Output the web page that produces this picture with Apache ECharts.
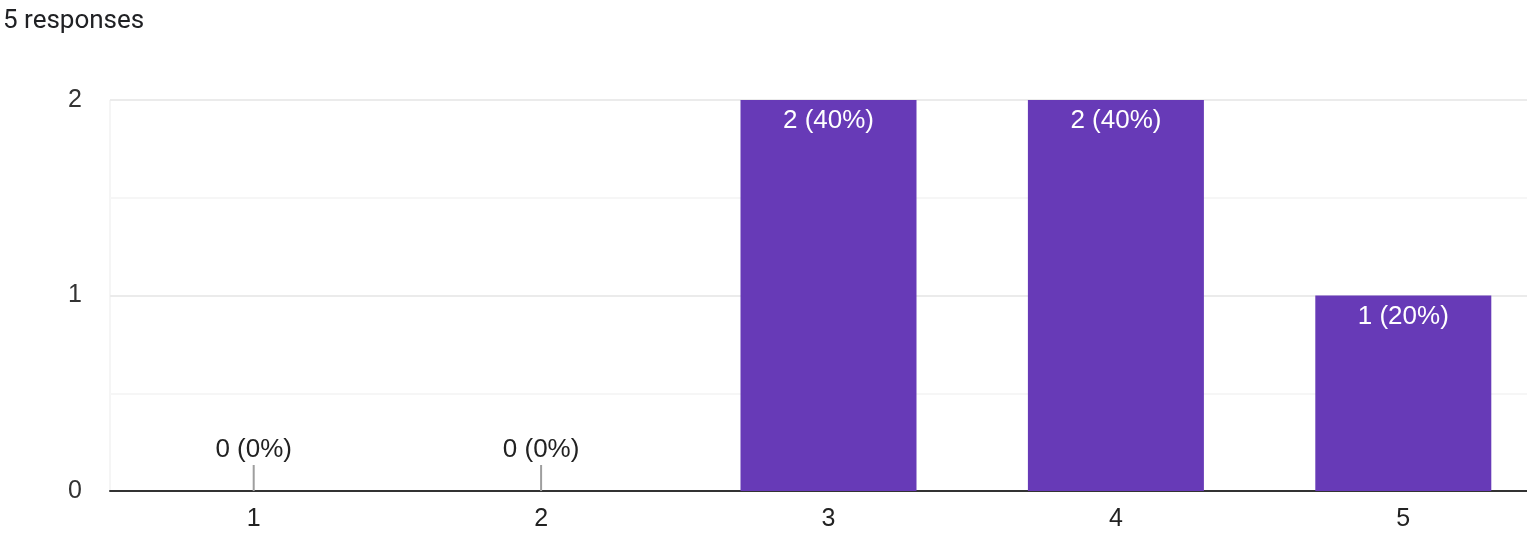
<!DOCTYPE html>
<html>
<head>
<meta charset="utf-8">
<script src="https://cdn.jsdelivr.net/npm/echarts@6/dist/echarts.min.js"></script>
<style>
html,body{margin:0;padding:0;background:#fff;}
#chart{width:1527px;height:537px;}
</style>
</head>
<body>
<div id="chart"></div>
<script>
const categories = ['1', '2', '3', '4', '5'];
const counts = [0, 0, 2, 2, 1];
const yTicks = [0, 1, 2];
const titleText = '5 responses';

const total = counts.reduce((a, b) => a + b, 0);
const labelFor = v => v + ' (' + Math.round(v / total * 100) + '%)';
const zeroMarks = counts.map(v => (v === 0 ? 0 : '-'));

const chart = echarts.init(document.getElementById('chart'), null, {renderer: 'canvas'});
chart.setOption({
  animation: false,
  backgroundColor: '#fff',
  title: {
    text: titleText,
    left: -2,
    top: 3,
    textStyle: {fontFamily: 'Roboto', fontSize: 26, fontWeight: 'normal', color: '#202124'}
  },
  grid: {
    left: 110, top: 100, width: 1437, bottom: 46,
    containLabel: false,
    outerBoundsMode: 'none',
    show: true, borderColor: '#ebebeb', borderWidth: 1
  },
  xAxis: {
    type: 'category',
    data: categories,
    axisLine: {lineStyle: {color: '#333', width: 2}},
    axisTick: {show: false},
    axisLabel: {fontFamily: 'Liberation Sans', fontSize: 25, color: '#222', margin: 16},
    splitLine: {show: false}
  },
  yAxis: {
    type: 'value',
    min: yTicks[0], max: yTicks[yTicks.length - 1], interval: 1,
    axisLine: {show: false},
    axisTick: {show: false},
    axisLabel: {fontFamily: 'Liberation Sans', fontSize: 25, color: '#333', margin: 28},
    splitLine: {lineStyle: {color: '#ebebeb', width: 2}},
    minorTick: {show: false, splitNumber: 2},
    minorSplitLine: {show: true, lineStyle: {color: '#f6f6f6', width: 2}}
  },
  series: [
    {
      type: 'bar',
      data: counts,
      barWidth: 176,
      itemStyle: {color: '#673ab7'},
      label: {
        show: true,
        position: 'insideTop',
        distance: 8,
        fontFamily: 'Liberation Sans',
        fontSize: 26,
        color: '#fff',
        formatter: p => (p.value > 0 ? labelFor(p.value) : '')
      },
      z: 2
    },
    {
      type: 'scatter',
      data: zeroMarks,
      symbol: 'rect',
      symbolSize: [2, 26],
      symbolOffset: [0, -13],
      itemStyle: {color: '#9e9e9e', opacity: 1},
      label: {
        show: true,
        position: 'top',
        distance: 2,
        fontFamily: 'Liberation Sans',
        fontSize: 26,
        color: '#222',
        formatter: p => labelFor(p.value)
      },
      z: 3
    }
  ]
});
</script>
</body>
</html>
